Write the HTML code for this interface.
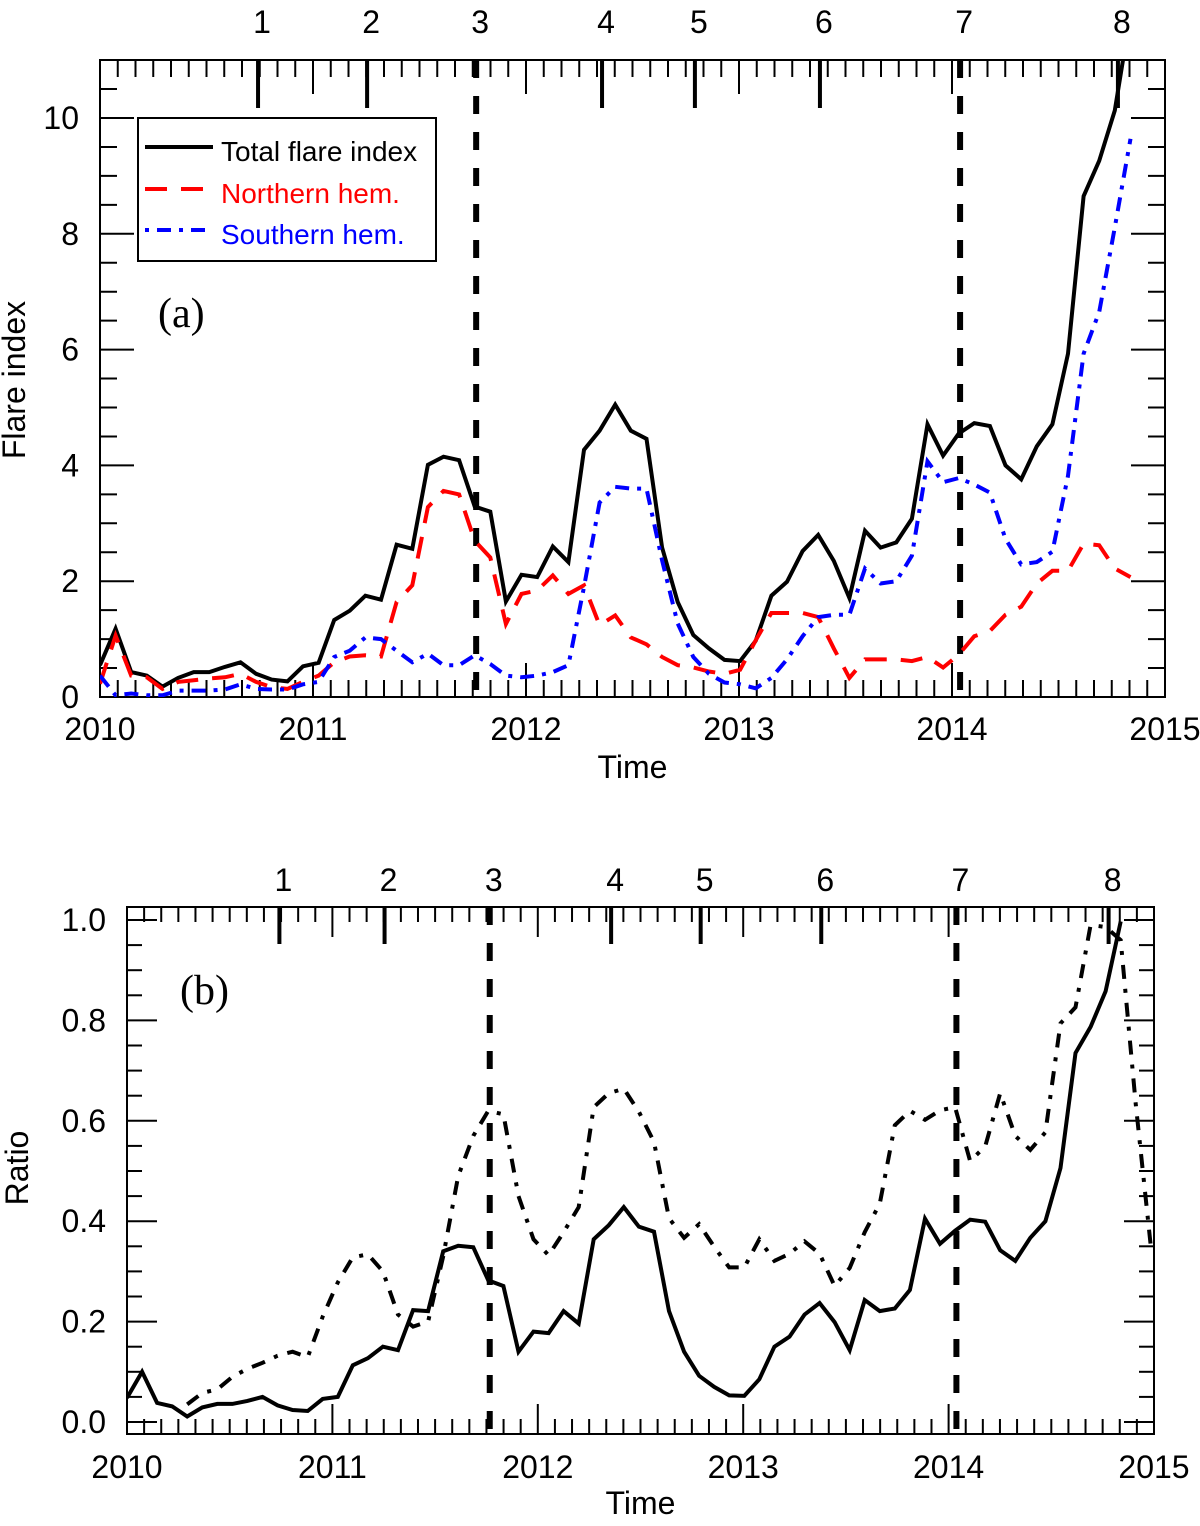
<!DOCTYPE html>
<html><head><meta charset="utf-8"><style>
html,body{margin:0;padding:0;background:#fff;}
svg{display:block;font-family:"Liberation Sans",Arial,sans-serif;}
</style></head>
<body>
<svg id="fig" width="1200" height="1526" viewBox="0 0 1200 1526" xmlns="http://www.w3.org/2000/svg">
<defs>
<clipPath id="clipA"><rect x="100" y="60" width="1065" height="637"/></clipPath>
<clipPath id="clipB"><rect x="127" y="907" width="1027" height="527"/></clipPath>
</defs>
<g id="panelA"></g>
<g id="panelB"></g>
</svg>
<script>
// ---- data ----
const startYear = 2010.0;
const stepYears = 0.0733; // one Carrington rotation
const eventTimes = [2010.742, 2011.254, 2011.766, 2012.357, 2012.793, 2013.380, 2014.038, 2014.779];
const eventLabels = ["1","2","3","4","5","6","7","8"];
const dashedEvents = [2, 6];
const yearTicks = [2010, 2011, 2012, 2013, 2014, 2015];
const yTicksA = [0, 2, 4, 6, 8, 10];
const yTicksB = [0.0, 0.2, 0.4, 0.6, 0.8, 1.0];
const yLabelsB = ["0.0","0.2","0.4","0.6","0.8","1.0"];

const totalFlare = [0.55,1.18,0.43,0.37,0.18,0.33,0.43,0.43,0.52,0.60,0.40,0.30,0.27,0.53,0.59,1.33,1.49,1.75,1.68,2.63,2.56,4.01,4.15,4.09,3.29,3.20,1.65,2.11,2.07,2.60,2.33,4.27,4.60,5.05,4.60,4.46,2.58,1.64,1.07,0.84,0.64,0.62,0.97,1.75,1.99,2.52,2.80,2.35,1.71,2.87,2.58,2.67,3.08,4.71,4.17,4.55,4.73,4.68,4.00,3.76,4.33,4.71,5.93,8.65,9.26,10.13,11.8];
const northFlare = [0.23,1.06,0.37,0.34,0.14,0.26,0.29,0.32,0.34,0.40,0.26,0.17,0.14,0.26,0.37,0.60,0.70,0.72,0.70,1.64,1.93,3.28,3.56,3.50,2.70,2.41,1.26,1.78,1.84,2.10,1.78,1.93,1.24,1.41,1.03,0.91,0.69,0.55,0.51,0.44,0.40,0.47,0.98,1.45,1.45,1.45,1.38,0.84,0.33,0.65,0.65,0.65,0.62,0.69,0.51,0.73,1.05,1.14,1.42,1.56,1.96,2.18,2.18,2.65,2.62,2.22,2.07];
const southFlare = [0.37,0.03,0.06,0.03,0.03,0.11,0.11,0.11,0.13,0.22,0.14,0.13,0.13,0.22,0.26,0.69,0.80,1.03,1.00,0.80,0.60,0.75,0.55,0.55,0.72,0.57,0.37,0.34,0.37,0.43,0.55,1.90,3.36,3.63,3.60,3.60,2.36,1.27,0.69,0.40,0.25,0.22,0.15,0.33,0.65,1.05,1.38,1.42,1.42,2.22,1.96,2.00,2.44,4.07,3.71,3.78,3.67,3.53,2.73,2.29,2.33,2.51,3.82,5.93,6.65,8.11,9.64];

const ratioTotal = [0.048,0.10,0.038,0.031,0.011,0.029,0.036,0.036,0.042,0.050,0.033,0.024,0.022,0.046,0.050,0.113,0.127,0.150,0.143,0.223,0.221,0.340,0.351,0.348,0.282,0.271,0.140,0.180,0.177,0.221,0.196,0.364,0.392,0.428,0.389,0.379,0.221,0.140,0.092,0.070,0.053,0.052,0.085,0.150,0.170,0.214,0.237,0.199,0.143,0.243,0.221,0.226,0.263,0.405,0.355,0.381,0.403,0.399,0.342,0.321,0.367,0.400,0.506,0.735,0.787,0.858,0.997];
const ratioOther = [null,null,null,null,0.035,0.058,0.065,0.090,0.106,0.118,0.132,0.140,0.129,0.210,0.278,0.328,0.334,0.300,0.214,0.190,0.200,0.330,0.490,0.570,0.620,0.613,0.450,0.364,0.332,0.378,0.428,0.627,0.655,0.664,0.618,0.558,0.406,0.367,0.394,0.349,0.308,0.308,0.364,0.321,0.335,0.360,0.335,0.271,0.307,0.378,0.435,0.591,0.620,0.602,0.621,0.627,0.520,0.549,0.655,0.570,0.542,0.577,0.794,0.826,0.990,0.986,0.960,0.634,0.350];

// ---- helpers ----
const NS = "http://www.w3.org/2000/svg";
function mk(tag, attrs, parent) {
  const e = document.createElementNS(NS, tag);
  for (const k in attrs) e.setAttribute(k, attrs[k]);
  parent.appendChild(e);
  return e;
}
function timeOf(i) { return startYear + i * stepYears; }

function drawPanel(g, cfg) {
  const X = t => cfg.x0 + (t - 2010) / 5 * (cfg.x1 - cfg.x0);
  const Y = v => cfg.yZero - v * cfg.yPer;
  // frame
  const frame = mk("rect", {x: cfg.x0, y: cfg.top, width: cfg.x1 - cfg.x0, height: cfg.bot - cfg.top, fill: "none", stroke: "#000", "stroke-width": 2}, g);
  
  
  // x minor ticks (monthly)
  const ticks = mk("g", {stroke: "#000", "stroke-width": 2}, g);
  
  
  for (let m = 1; m < 60; m++) {
    const x = X(2010 + m / 12);
    const L = (m % 12 === 0) ? cfg.major : cfg.minor;
    mk("line", {x1: x, x2: x, y1: cfg.bot, y2: cfg.bot - L}, ticks);
    mk("line", {x1: x, x2: x, y1: cfg.top, y2: cfg.top + L}, ticks);
  }
  // y ticks
  for (let v = cfg.yMinorStart; v <= cfg.yMax + 1e-9; v += cfg.yMinor) {
    const y = Y(v);
    if (y < cfg.top + 1 || y > cfg.bot - 1) continue;
    const isMajor = Math.abs(v / cfg.yMajor - Math.round(v / cfg.yMajor)) < 1e-6;
    const L = isMajor ? cfg.major : cfg.minor;
    mk("line", {x1: cfg.x0, x2: cfg.x0 + L, y1: y, y2: y}, ticks);
    mk("line", {x1: cfg.x1, x2: cfg.x1 - L, y1: y, y2: y}, ticks);
  }
  // year labels
  yearTicks.forEach(yr => {
    const t = mk("text", {x: X(yr), y: cfg.bot + cfg.xlabOff, "font-size": 32, "text-anchor": "middle"}, g);
    t.textContent = String(yr);
    
    
  });
  cfg.yTicks.forEach((v, k) => {
    const t = mk("text", {x: cfg.ylabX, y: Y(v) + 11, "font-size": 32, "text-anchor": "end"}, g);
    t.textContent = cfg.yLabels[k];
    
    
  });
  // axis titles
  const xt = mk("text", {x: (cfg.x0 + cfg.x1) / 2, y: cfg.timeY, "font-size": 32, "text-anchor": "middle"}, g);
  xt.textContent = "Time";
  
  
  const yt = mk("text", {x: 0, y: 0, "font-size": 32, "text-anchor": "middle", transform: `translate(${cfg.ytitleX},${cfg.ytitleY}) rotate(-90)`}, g);
  yt.textContent = cfg.ytitle;
  
  
  // events
  eventTimes.forEach((et, k) => {
    const x = X(et);
    const lab = mk("text", {x: x + 4, y: cfg.top - cfg.evLabOff, "font-size": 32, "text-anchor": "middle"}, g);
    lab.textContent = eventLabels[k];
    
    
    if (dashedEvents.includes(k)) {
      const dl = mk("line", {x1: x, x2: x, y1: cfg.top, y2: cfg.bot, stroke: "#000", "stroke-width": 6, "stroke-dasharray": "18 18"}, g);
      
      
    } else {
      const tk = mk("line", {x1: x, x2: x, y1: cfg.top, y2: cfg.top + cfg.evTick, stroke: "#000", "stroke-width": 4}, g);
      
      
    }
  });
  // series
  const sg = mk("g", {"clip-path": cfg.clip}, g);
  cfg.series.forEach(s => {
    let d = "", pen = false;
    s.values.forEach((v, i) => {
      if (v === null) { pen = false; return; }
      d += (pen ? "L" : "M") + X(timeOf(i)).toFixed(1) + "," + Y(v).toFixed(1);
      pen = true;
    });
    const p = mk("path", {d: d, fill: "none", stroke: s.color, "stroke-width": 4, "stroke-linejoin": "miter", "stroke-dasharray": s.dash}, sg);
    
    
  });
}

const gA = document.getElementById("panelA");
drawPanel(gA, {
  x0: 100, x1: 1165, top: 60, bot: 697, yZero: 697, yPer: 57.9, yMax: 11, yMinor: 0.5, yMajor: 2, yMinorStart: 0,
  major: 34, minor: 17, evTick: 48, xlabOff: 43, timeY: 778, ylabX: 79,
  yTicks: yTicksA, yLabels: yTicksA.map(String), ytitle: "Flare index", ytitleX: 25, ytitleY: 380,
  evLabOff: 27, clip: "url(#clipA)",
  series: [
    {name: "total-flare-index-line", values: totalFlare, color: "#000", dash: "none"},
    {name: "northern-hem-line", values: northFlare, color: "#ff0000", dash: "22 14"},
    {name: "southern-hem-line", values: southFlare, color: "#0000ff", dash: "14 8 4 8"}
  ]
});

const gB = document.getElementById("panelB");
drawPanel(gB, {
  x0: 127, x1: 1154, top: 907, bot: 1434, yZero: 1422, yPer: 502, yMax: 1.03, yMinor: 0.05, yMajor: 0.2, yMinorStart: 0,
  major: 30, minor: 15, evTick: 37, xlabOff: 44, timeY: 1514, ylabX: 106,
  yTicks: yTicksB, yLabels: yLabelsB, ytitle: "Ratio", ytitleX: 28, ytitleY: 1168,
  evLabOff: 16, clip: "url(#clipB)",
  series: [
    {name: "ratio-total-line", values: ratioTotal, color: "#000", dash: "none"},
    {name: "ratio-dashdot-line", values: ratioOther, color: "#000", dash: "14 10 4 10"}
  ]
});

// legend
const leg = mk("g", {}, gA);


mk("rect", {x: 138, y: 118, width: 298, height: 143, fill: "#fff", stroke: "#000", "stroke-width": 2}, leg);
const legItems = [
  {label: "Total flare index", color: "#000", dash: "none", y: 147},
  {label: "Northern hem.", color: "#ff0000", dash: "22 14", y: 189},
  {label: "Southern hem.", color: "#0000ff", dash: "4 8 14 8", y: 230}
];
legItems.forEach(it => {
  const ln = mk("line", {x1: 145, x2: 213, y1: it.y, y2: it.y, stroke: it.color, "stroke-width": 4, "stroke-dasharray": it.dash}, leg);
  
  
  const tx = mk("text", {x: 221, y: it.y + 14, "font-size": 28, fill: it.color}, leg);
  tx.textContent = it.label;
  
  
});

const la = mk("text", {x: 158, y: 327, "font-size": 42, "font-family": "Liberation Serif, serif"}, gA);
la.textContent = "(a)";


const lb = mk("text", {x: 180, y: 1004, "font-size": 42, "font-family": "Liberation Serif, serif"}, gB);
lb.textContent = "(b)";


</script>
</body></html>
